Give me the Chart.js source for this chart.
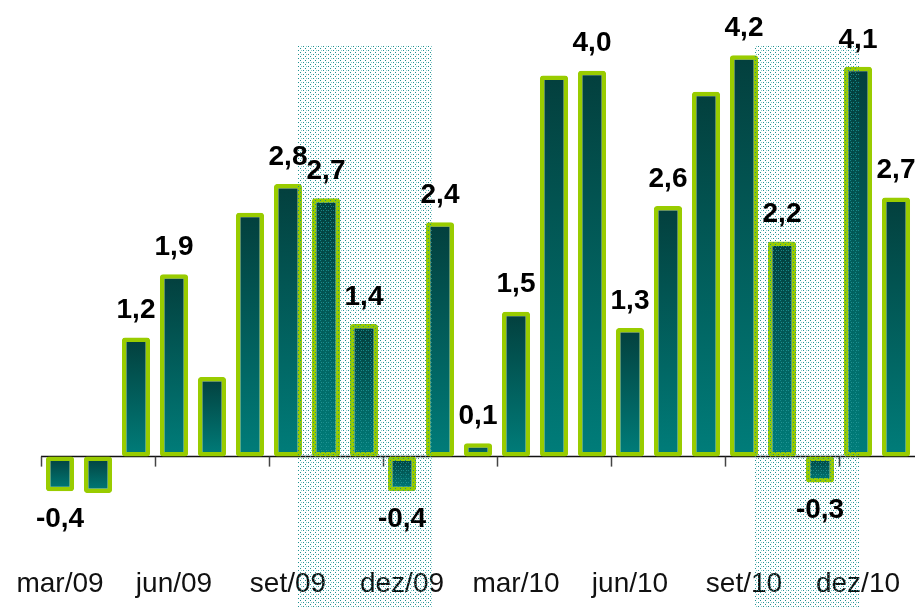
<!DOCTYPE html>
<html>
<head>
<meta charset="utf-8">
<script src="https://cdn.jsdelivr.net/npm/chart.js@4/dist/chart.umd.min.js"></script>
<style>
  html, body { margin: 0; padding: 0; background: #fff; }
  #wrap { width: 915px; height: 608px; }
</style>
</head>
<body>
<div id="wrap"><canvas id="chart"></canvas></div>
<script>
// months, mar/09 .. jan/11
const months = ['mar/09','abr/09','mai/09','jun/09','jul/09','ago/09','set/09','out/09','nov/09','dez/09',
  'jan/10','fev/10','mar/10','abr/10','mai/10','jun/10','jul/10','ago/10','set/10','out/10','nov/10','dez/10','jan/11'];
const values = [-0.36, -0.38, 1.24, 1.90, 0.83, 2.54, 2.84, 2.69, 1.38, -0.36, 2.44, 0.14,
  1.51, 3.97, 4.02, 1.34, 2.61, 3.80, 4.18, 2.24, -0.27, 4.06, 2.70];
// which bars carry a value label
const showLabel = [1,0,1,1,0,0,1,1,1,1,1,1,1,0,1,1,1,0,1,1,1,1,1];
// shaded periods, in category index units
const shadeRanges = [[6.23, 9.82], [18.29, 21.05]];
const shadeTop = 4.28;

// dotted pattern for the shaded periods
function makePattern(ctx) {
  const c = document.createElement('canvas');
  c.width = 5; c.height = 4;
  const p = c.getContext('2d');
  p.fillStyle = 'rgba(20,140,140,0.95)';
  p.fillRect(0, 0, 1, 1);
  p.fillRect(3, 2, 1, 1);
  p.fillStyle = 'rgba(60,170,170,0.6)';
  p.fillRect(1, 2, 1, 1);
  return ctx.createPattern(c, 'repeat');
}

function barGradient(context) {
  const chart = context.chart;
  if (!chart.chartArea || context.dataIndex === undefined) return '#006060';
  const y = chart.scales.y;
  const v = values[context.dataIndex];
  const a = y.getPixelForValue(v), b = y.getPixelForValue(0);
  const top = Math.min(a, b), bot = Math.max(a, b);
  const g = chart.ctx.createLinearGradient(0, top, 0, bot + 0.01);
  g.addColorStop(0, '#033f3d');
  g.addColorStop(1, '#007d7a');
  return g;
}

const axisLine = {
  id: 'axisLine',
  beforeDatasetsDraw(chart) {
    const ctx = chart.ctx, x = chart.scales.x, y = chart.scales.y;
    const y0 = y.getPixelForValue(0);
    ctx.save();
    ctx.strokeStyle = '#111';
    ctx.lineWidth = 1.5;
    ctx.beginPath();
    ctx.moveTo(chart.chartArea.left, y0);
    ctx.lineTo(chart.chartArea.right, y0);
    ctx.stroke();
    const half = (x.getPixelForValue(1) - x.getPixelForValue(0)) / 2;
    ctx.strokeStyle = '#444';
    for (let i = 0; i < months.length; i += 3) {
      const px = Math.round(x.getPixelForValue(i) - half) + 0.5;
      ctx.beginPath();
      ctx.moveTo(px, y0);
      ctx.lineTo(px, y0 + 10);
      ctx.stroke();
    }
    ctx.restore();
  }
};

const shading = {
  id: 'shading',
  afterDatasetsDraw(chart) {
    const ctx = chart.ctx, x = chart.scales.x, y = chart.scales.y;
    const step = x.getPixelForValue(1) - x.getPixelForValue(0);
    ctx.save();
    ctx.fillStyle = makePattern(ctx);
    shadeRanges.forEach(r => {
      const x1 = Math.round(x.getPixelForValue(0) + r[0] * step);
      const x2 = Math.round(x.getPixelForValue(0) + r[1] * step);
      const yt = Math.round(y.getPixelForValue(shadeTop));
      ctx.fillRect(x1, yt, x2 - x1, chart.height - yt);
    });
    // value labels on top
    ctx.fillStyle = '#000';
    ctx.font = 'bold 28px "Liberation Sans", Arial, sans-serif';
    ctx.textAlign = 'center';
    ctx.textBaseline = 'middle';
    const meta = chart.getDatasetMeta(0);
    meta.data.forEach((bar, i) => {
      if (!showLabel[i]) return;
      const v = values[i];
      const txt = v.toFixed(1).replace('.', ',');
      const ly = v >= 0 ? bar.y - 27 : bar.y + 28;
      ctx.fillText(txt, bar.x, ly);
    });
    ctx.restore();
  }
};

new Chart(document.getElementById('chart'), {
  type: 'bar',
  data: {
    labels: months,
    datasets: [{
      data: values,
      backgroundColor: barGradient,
      borderColor: '#99cc00',
      borderWidth: 4.5,
      borderRadius: 3,
      borderSkipped: false,
      barPercentage: 0.74,
      categoryPercentage: 1
    }]
  },
  options: {
    responsive: true,
    maintainAspectRatio: false,
    animation: false,
    layout: { padding: { left: 41, right: 0, top: 15, bottom: 8 } },
    plugins: { legend: { display: false }, tooltip: { enabled: false } },
    scales: {
      x: {
        grid: { display: false, drawTicks: false },
        border: { display: false },
        afterFit: (scale) => { scale.height = 47.4; },
        ticks: {
          autoSkip: false,
          maxRotation: 0,
          padding: 15,
          color: '#111',
          font: { family: '"Liberation Sans", Arial, sans-serif', size: 28 },
          callback: (v, i) => (i % 3 === 0 ? months[i] : '')
        }
      },
      y: {
        display: false,
        min: -1.0,
        max: 4.6
      }
    }
  },
  plugins: [axisLine, shading]
});
</script>
</body>
</html>
